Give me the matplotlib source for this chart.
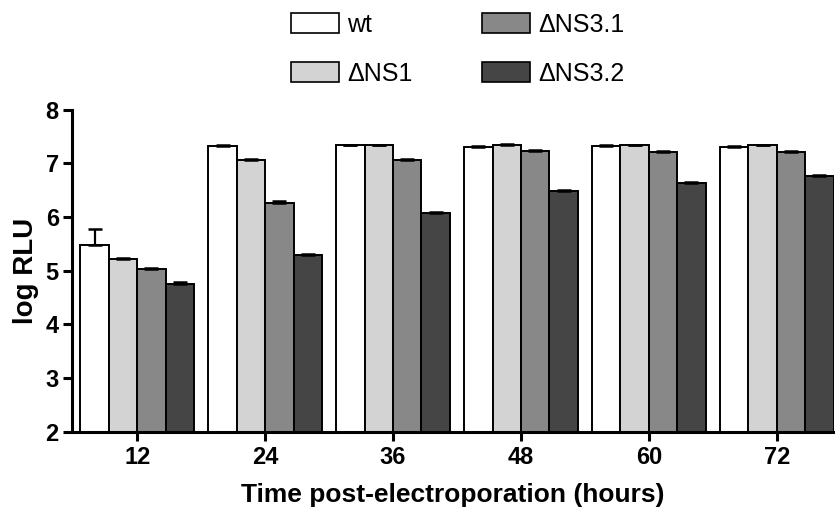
import numpy as np
import matplotlib
matplotlib.use("Agg")
import matplotlib.pyplot as plt
from matplotlib.patches import Patch

hours = [12, 24, 36, 48, 60, 72]
series = ["wt", "\u0394NS1", "\u0394NS3.1", "\u0394NS3.2"]
wt = [5.48, 7.32, 7.34, 7.30, 7.32, 7.31]
ns1 = [5.21, 7.07, 7.34, 7.35, 7.35, 7.35]
ns31 = [5.04, 6.27, 7.06, 7.24, 7.21, 7.21]
ns32 = [4.76, 5.29, 6.08, 6.49, 6.63, 6.77]
wt_err = [0.29, 0.03, 0.01, 0.03, 0.02, 0.02]
ns1_err = [0.02, 0.01, 0.01, 0.02, 0.0, 0.0]
ns31_err = [0.02, 0.03, 0.02, 0.01, 0.03, 0.03]
ns32_err = [0.03, 0.02, 0.02, 0.02, 0.02, 0.02]

values = [wt, ns1, ns31, ns32]
errors = [wt_err, ns1_err, ns31_err, ns32_err]
colors = ["white", "#d3d3d3", "#888888", "#454545"]

plt.rcParams['font.family'] = ['Liberation Sans', 'DejaVu Sans']

fig = plt.figure(figsize=(8.35, 5.08), dpi=100)
ax = fig.add_axes([0.0862, 0.150, 0.913, 0.634])

x = np.arange(len(hours))
w = 0.222
for i, (vals, errs, c) in enumerate(zip(values, errors, colors)):
    pos = x + (i - 1.5) * w
    ax.bar(pos, [v - 2 for v in vals], w, bottom=2, color=c, edgecolor="black",
           linewidth=1.4, zorder=2)
    ax.errorbar(pos, vals, yerr=[[0] * len(errs), errs], fmt="none", ecolor="black",
                elinewidth=1.6, capsize=5, capthick=1.8, zorder=3)

ax.set_xlim(-0.51, 5.45)
ax.set_ylim(2, 8)
ax.set_xticks(x)
ax.set_xticklabels([str(h) for h in hours])
ax.set_yticks(range(2, 9))
ax.spines['top'].set_visible(False)
ax.spines['right'].set_visible(False)
ax.spines['left'].set_linewidth(2.2)
ax.spines['bottom'].set_linewidth(2.2)
ax.tick_params(axis='both', width=2.2, length=6.5, labelsize=17, pad=3)
ax.tick_params(axis='x', pad=4)
for lab in ax.get_xticklabels() + ax.get_yticklabels():
    lab.set_fontweight('bold')
ax.set_xlabel("Time post-electroporation (hours)", fontsize=19, fontweight='bold', labelpad=10)
ax.set_ylabel("log RLU", fontsize=20, fontweight='bold', labelpad=5)

handles = [Patch(facecolor=c, edgecolor="black", linewidth=1.2) for c in colors]
fig.legend(handles, series, ncol=2, frameon=False,
           loc="upper left", bbox_to_anchor=(0.334, 0.999), fontsize=18, borderpad=0,
           handlelength=1.92, handleheight=0.84, columnspacing=2.8, labelspacing=0.99,
           handletextpad=0.3)

fig.savefig("out.png", dpi=100)
